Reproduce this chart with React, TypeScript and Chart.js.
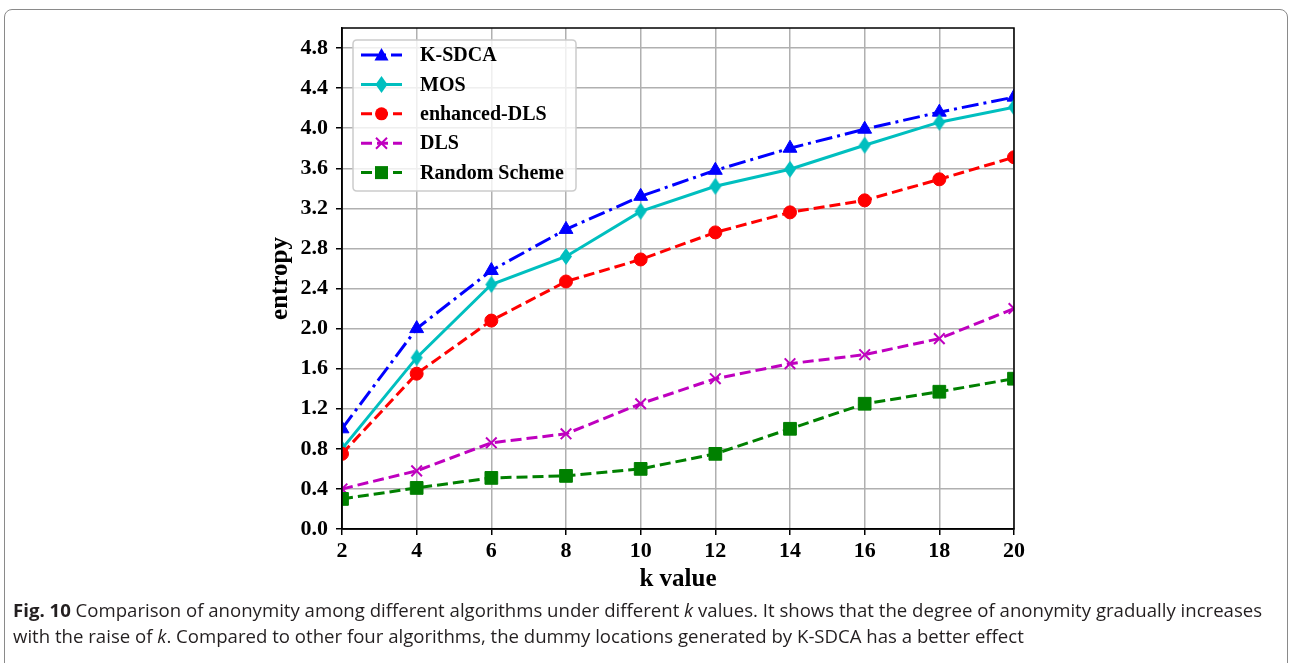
import React, { useEffect, useRef } from 'react';
import { Chart, registerables } from 'chart.js';

Chart.register(...registerables);

const kValues = [2, 4, 6, 8, 10, 12, 14, 16, 18, 20];
const ksdca = [1.0, 2.0, 2.58, 2.99, 3.32, 3.58, 3.8, 3.99, 4.16, 4.31];
const mos = [0.8, 1.71, 2.44, 2.72, 3.17, 3.42, 3.59, 3.83, 4.06, 4.21];
const enhancedDls = [0.75, 1.55, 2.08, 2.47, 2.69, 2.96, 3.16, 3.28, 3.49, 3.71];
const dls = [0.4, 0.58, 0.86, 0.95, 1.25, 1.5, 1.65, 1.74, 1.9, 2.2];
const randomScheme = [0.3, 0.41, 0.51, 0.53, 0.6, 0.75, 1.0, 1.25, 1.37, 1.5];

const seriesLabels = ['K-SDCA', 'MOS', 'enhanced-DLS', 'DLS', 'Random Scheme'];
const seriesColors = ['#0000ff', '#00bfbf', '#ff0000', '#bf00bf', '#008000'];
const seriesMarkers = ['triangle', 'diamond', 'circle', 'crossRot', 'rect'];
const seriesDashes: number[][] = [[17, 5, 3, 5], [], [11, 5], [11, 5], [11, 5]];

const yTickValues = [0, 0.4, 0.8, 1.2, 1.6, 2.0, 2.4, 2.8, 3.2, 3.6, 4.0, 4.4, 4.8];
const xTickValues = [2, 4, 6, 8, 10, 12, 14, 16, 18, 20];

const xTitle = 'k value';
const yTitle = 'entropy';

const SERIF = "'Liberation Serif', 'Times New Roman', serif";

function makeDiamond(color: string) {
  const c = document.createElement('canvas');
  c.width = 14;
  c.height = 19;
  const ctx = c.getContext('2d')!;
  ctx.fillStyle = color;
  ctx.beginPath();
  ctx.moveTo(7, 1);
  ctx.lineTo(13, 9.5);
  ctx.lineTo(7, 18);
  ctx.lineTo(1, 9.5);
  ctx.closePath();
  ctx.fill();
  return c;
}

function drawMarker(ctx: CanvasRenderingContext2D, kind: string, x: number, y: number, color: string) {
  ctx.save();
  ctx.setLineDash([]);
  ctx.fillStyle = color;
  ctx.strokeStyle = color;
  ctx.beginPath();
  if (kind === 'triangle') {
    ctx.moveTo(x, y - 7);
    ctx.lineTo(x + 7, y + 5.5);
    ctx.lineTo(x - 7, y + 5.5);
    ctx.closePath();
    ctx.fill();
  } else if (kind === 'diamond') {
    ctx.moveTo(x, y - 8.5);
    ctx.lineTo(x + 6, y);
    ctx.lineTo(x, y + 8.5);
    ctx.lineTo(x - 6, y);
    ctx.closePath();
    ctx.fill();
  } else if (kind === 'circle') {
    ctx.arc(x, y, 6.5, 0, Math.PI * 2);
    ctx.fill();
  } else if (kind === 'crossRot') {
    ctx.lineWidth = 2;
    ctx.moveTo(x - 5.5, y - 5.5);
    ctx.lineTo(x + 5.5, y + 5.5);
    ctx.moveTo(x + 5.5, y - 5.5);
    ctx.lineTo(x - 5.5, y + 5.5);
    ctx.stroke();
  } else {
    ctx.rect(x - 6.5, y - 6.5, 13, 13);
    ctx.fill();
  }
  ctx.restore();
}

const framePlugin = {
  id: 'frameAndLegend',
  afterDatasetsDraw(chart: any) {
    const { ctx, chartArea } = chart;
    ctx.save();
    ctx.strokeStyle = '#000';
    ctx.lineWidth = 1.5;
    ctx.setLineDash([]);
    ctx.strokeRect(chartArea.left, chartArea.top, chartArea.right - chartArea.left, chartArea.bottom - chartArea.top);
    ctx.restore();
  },
  afterDraw(chart: any) {
    const { ctx, chartArea } = chart;
    const bx = chartArea.left + 11;
    const by = chartArea.top + 12;
    const bw = 223;
    const bh = 151;
    ctx.save();
    ctx.beginPath();
    const r = 4;
    ctx.moveTo(bx + r, by);
    ctx.lineTo(bx + bw - r, by);
    ctx.quadraticCurveTo(bx + bw, by, bx + bw, by + r);
    ctx.lineTo(bx + bw, by + bh - r);
    ctx.quadraticCurveTo(bx + bw, by + bh, bx + bw - r, by + bh);
    ctx.lineTo(bx + r, by + bh);
    ctx.quadraticCurveTo(bx, by + bh, bx, by + bh - r);
    ctx.lineTo(bx, by + r);
    ctx.quadraticCurveTo(bx, by, bx + r, by);
    ctx.closePath();
    ctx.fillStyle = 'rgba(255,255,255,0.8)';
    ctx.fill();
    ctx.strokeStyle = '#cccccc';
    ctx.lineWidth = 1.5;
    ctx.stroke();

    chart.data.datasets.forEach((ds: any, i: number) => {
      const y = by + 15 + i * 29.4;
      const color = seriesColors[i];
      ctx.save();
      ctx.strokeStyle = color;
      ctx.lineWidth = 3;
      ctx.setLineDash(seriesDashes[i]);
      ctx.beginPath();
      ctx.moveTo(bx + 8, y);
      ctx.lineTo(bx + 49, y);
      ctx.stroke();
      ctx.restore();
      drawMarker(ctx, seriesMarkers[i], bx + 28.5, y, color);
      ctx.fillStyle = '#000';
      ctx.font = `bold 20px ${SERIF}`;
      ctx.textBaseline = 'middle';
      ctx.textAlign = 'left';
      ctx.fillText(ds.label, bx + 67, y + 1);
    });
    ctx.restore();
  },
};

export default function App() {
  const canvasRef = useRef<HTMLCanvasElement | null>(null);

  useEffect(() => {
    if (!canvasRef.current) return;
    const allSeries = [ksdca, mos, enhancedDls, dls, randomScheme];
    const datasets = allSeries.map((vals, i) => {
      const marker = seriesMarkers[i];
      const color = seriesColors[i];
      let pointStyle: any = marker;
      let pointRadius = 6.5;
      let pointBorderWidth = 1;
      if (marker === 'triangle') pointRadius = 8;
      if (marker === 'rect') pointRadius = 9;
      if (marker === 'crossRot') {
        pointRadius = 7.5;
        pointBorderWidth = 2;
      }
      if (marker === 'diamond') {
        pointStyle = makeDiamond(color);
        pointRadius = 9;
      }
      return {
        label: seriesLabels[i],
        data: kValues.map((k, j) => ({ x: k, y: vals[j] })),
        borderColor: color,
        backgroundColor: color,
        borderWidth: 3,
        borderDash: seriesDashes[i],
        pointStyle,
        pointRadius,
        pointHoverRadius: pointRadius,
        pointBorderWidth,
        pointBackgroundColor: color,
        pointBorderColor: color,
        tension: 0,
        fill: false,
        clip: 0,
        order: 4 - i,
      };
    });

    const chart = new Chart(canvasRef.current, {
      type: 'line',
      data: { datasets },
      options: {
        animation: false,
        responsive: false,
        events: [],
        layout: { padding: { left: 262, right: 275, top: 28, bottom: 1 } },
        plugins: {
          legend: { display: false },
          tooltip: { enabled: false },
        },
        scales: {
          x: {
            type: 'linear',
            min: 2,
            max: 20,
            afterBuildTicks: (scale: any) => {
              scale.ticks = xTickValues.map((v) => ({ value: v }));
            },
            afterFit: (scale: any) => {
              scale.height = 70;
            },
            ticks: {
              color: '#000',
              padding: 3,
              font: { family: SERIF, size: 22, weight: 'bold' },
              callback: (v: any) => String(v),
              maxRotation: 0,
              autoSkip: false,
            },
            grid: {
              color: '#b0b0b0',
              lineWidth: 1.5,
              tickColor: '#000',
              tickLength: 6,
              tickWidth: 1.5,
            },
            border: { color: '#000', width: 1.5 },
            title: {
              display: true,
              text: xTitle,
              color: '#000',
              font: { family: SERIF, size: 25, weight: 'bold' },
              padding: { top: 0, bottom: 4 },
            },
          },
          y: {
            type: 'linear',
            min: 0,
            max: 5.0,
            afterBuildTicks: (scale: any) => {
              scale.ticks = yTickValues.map((v) => ({ value: v }));
            },
            afterFit: (scale: any) => {
              scale.width = 342 - 262;
            },
            ticks: {
              color: '#000',
              padding: 8,
              font: { family: SERIF, size: 22, weight: 'bold' },
              callback: (v: any) => Number(v).toFixed(1),
              autoSkip: false,
            },
            grid: {
              color: '#b0b0b0',
              lineWidth: 1.5,
              tickColor: '#000',
              tickLength: 6,
              tickWidth: 1.5,
            },
            border: { color: '#000', width: 1.5 },
            title: {
              display: true,
              text: yTitle,
              color: '#000',
              font: { family: SERIF, size: 25, weight: 'bold' },
              padding: { top: 4, bottom: 0 },
            },
          },
        },
      } as any,
      plugins: [framePlugin],
    });
    return () => chart.destroy();
  }, []);

  return (
    <div
      style={{
        position: 'fixed',
        left: 0,
        top: 0,
        width: 1289,
        height: 663,
        overflow: 'hidden',
        background: '#fff',
      }}
    >
      <div
        style={{
          position: 'absolute',
          left: 4,
          top: 9,
          width: 1284,
          height: 720,
          border: '1.5px solid #8a8a8a',
          borderRadius: 8,
          boxSizing: 'border-box',
        }}
      />
      <canvas
        ref={canvasRef}
        width={1289}
        height={600}
        style={{ position: 'absolute', left: 0, top: 0, width: 1289, height: 600 }}
      />
      <div
        style={{
          position: 'absolute',
          left: 13,
          top: 597,
          fontFamily: "'Open Sans', 'Noto Sans', sans-serif",
          fontSize: 18.6,
          lineHeight: '26px',
          whiteSpace: 'nowrap',
          color: '#231f20',
        }}
      >
        <b>Fig. 10</b> Comparison of anonymity among different algorithms under different <i>k</i> values. It shows
        that the degree of anonymity gradually increases
        <br />
        with the raise of <i>k</i>. Compared to other four algorithms, the dummy locations generated by K-SDCA has a
        better effect
      </div>
    </div>
  );
}
